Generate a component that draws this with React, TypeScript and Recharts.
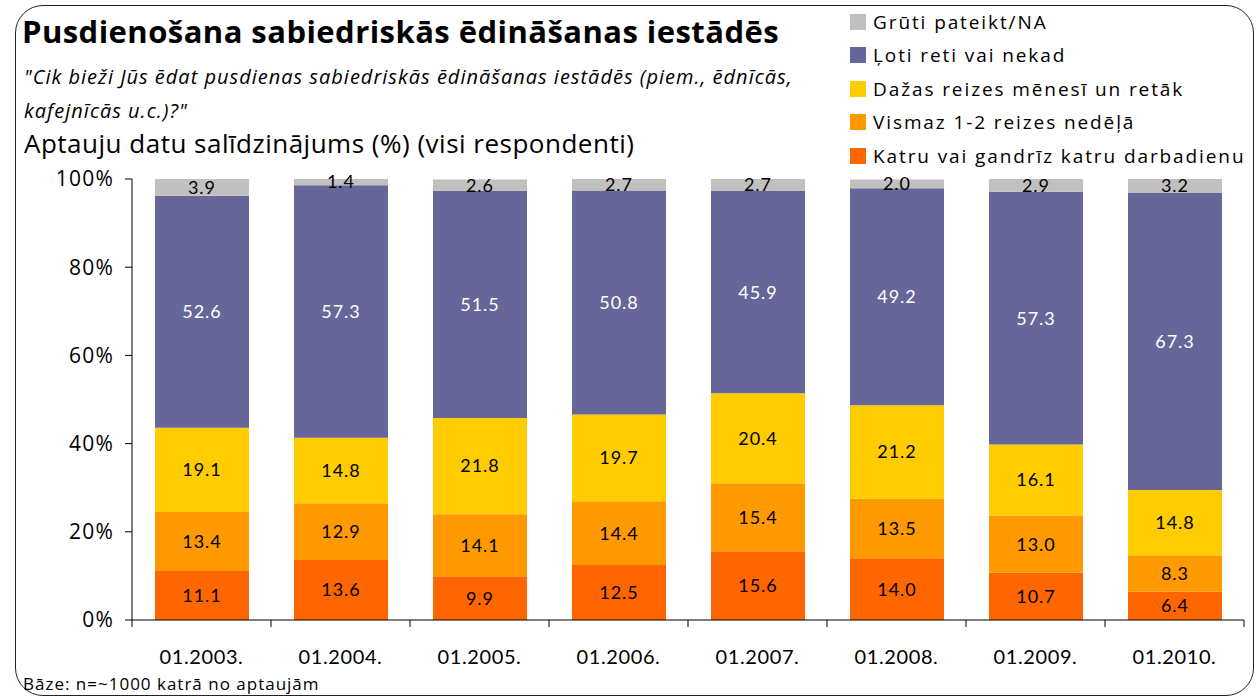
import { Bar, BarChart, LabelList, XAxis, YAxis } from 'recharts'

const categories = ['01.2003.', '01.2004.', '01.2005.', '01.2006.', '01.2007.', '01.2008.', '01.2009.', '01.2010.']
const katru = [11.1, 13.6, 9.9, 12.5, 15.6, 14.0, 10.7, 6.4]
const vismaz = [13.4, 12.9, 14.1, 14.4, 15.4, 13.5, 13.0, 8.3]
const dazas = [19.1, 14.8, 21.8, 19.7, 20.4, 21.2, 16.1, 14.8]
const loti = [52.6, 57.3, 51.5, 50.8, 45.9, 49.2, 57.3, 67.3]
const gruti = [3.9, 1.4, 2.6, 2.7, 2.7, 2.0, 2.9, 3.2]
const yTicks = [0, 20, 40, 60, 80, 100]

const series = [
  { key: 'katru', name: 'Katru vai gandrīz katru darbadienu', color: '#FF6600', text: '#000' },
  { key: 'vismaz', name: 'Vismaz 1-2 reizes nedēļā', color: '#FF9900', text: '#000' },
  { key: 'dazas', name: 'Dažas reizes mēnesī un retāk', color: '#FFCC00', text: '#000' },
  { key: 'loti', name: 'Ļoti reti vai nekad', color: '#666699', text: '#fff' },
  { key: 'gruti', name: 'Grūti pateikt/NA', color: '#C0C0C0', text: '#000' },
]

const data = categories.map((cat, i) => ({
  cat,
  katru: katru[i],
  vismaz: vismaz[i],
  dazas: dazas[i],
  loti: loti[i],
  gruti: gruti[i],
}))

const font = '"Open Sans", Lato, sans-serif'
const numFont = 'Lato, "Open Sans", sans-serif'

const XTick = (props: any) => {
  const { x, y, payload, index, visibleTicksCount } = props
  const half = payload.offset ?? 69.5
  return (
    <g>
      <line x1={x - half} x2={x - half} y1={y} y2={y + 7} stroke='#000' />
      {index === visibleTicksCount - 1 && (
        <line x1={x + half} x2={x + half} y1={y} y2={y + 7} stroke='#000' />
      )}
      <text x={x} y={y + 44} textAnchor='middle' fontSize={20} letterSpacing={0.6} fill='#000' fontFamily={numFont}>
        {payload.value}
      </text>
    </g>
  )
}

const LegendBox = () => (
  <div style={{ fontFamily: font, fontSize: 19, letterSpacing: 1.9, color: '#000' }}>
    {[...series].reverse().map((s) => (
      <div key={s.key} style={{ display: 'flex', alignItems: 'center', height: 33.5, whiteSpace: 'nowrap' }}>
        <span style={{ width: 16, height: 16, background: s.color, marginRight: 7, display: 'inline-block', flex: 'none' }} />
        <span>{s.name}</span>
      </div>
    ))}
  </div>
)

export default function App() {
  return (
    <div style={{ position: 'absolute', left: 0, top: 0, width: 1257, height: 696, background: '#fff', overflow: 'hidden', fontFamily: font }}>
      <div
        style={{
          position: 'absolute',
          left: 15,
          top: 5,
          width: 1237,
          height: 689,
          border: '1.5px solid #222',
          borderRadius: 28,
        }}
      />
      <div style={{ position: 'absolute', left: 22, top: 10, fontSize: 31, fontWeight: 700, letterSpacing: 0.45, whiteSpace: 'nowrap' }}>
        Pusdienošana sabiedriskās ēdināšanas iestādēs
      </div>
      <div style={{ position: 'absolute', left: 24, top: 60, width: 815, fontSize: 20, fontStyle: 'italic', letterSpacing: 1.0, lineHeight: '34px' }}>
        "Cik bieži Jūs ēdat pusdienas sabiedriskās ēdināšanas iestādēs (piem., ēdnīcās, kafejnīcās u.c.)?"
      </div>
      <div style={{ position: 'absolute', left: 24, top: 125, fontSize: 26, letterSpacing: 0.5, whiteSpace: 'nowrap' }}>
        Aptauju datu salīdzinājums (%) (visi respondenti)
      </div>
      <div style={{ position: 'absolute', left: 23, top: 672, fontSize: 17, letterSpacing: 1, whiteSpace: 'nowrap' }}>
        Bāze: n=~1000 katrā no aptaujām
      </div>
      <div style={{ position: 'absolute', left: 850, top: 5 }}>
        <LegendBox />
      </div>
      <BarChart
        width={1257}
        height={696}
        data={data}
        margin={{ top: 179, right: 13, bottom: 26, left: 32 }}
        barSize={94}
        style={{ position: 'absolute', left: 0, top: 0 }}
      >
        <XAxis
          dataKey='cat'
          stroke='#000'
          tickLine={false}
          tickSize={0}
          tickMargin={0}
          height={50}
          interval={0}
          tick={<XTick />}
        />
        <YAxis
          type='number'
          domain={[0, 100]}
          ticks={yTicks}
          allowDataOverflow
          width={100}
          stroke='#000'
          tickSize={7}
          tickMargin={11}
          tickFormatter={(v) => `${v}%`}
          tick={{ fontSize: 21, fill: '#000', fontFamily: font, letterSpacing: 1.2 }}
        />
        {series.map((s) => (
          <Bar key={s.key} dataKey={s.key} name={s.name} stackId='a' fill={s.color} isAnimationActive={false}>
            <LabelList
              dataKey={s.key}
              position='center'
              formatter={(v: any) => Number(v).toFixed(1)}
              style={{ fontSize: 18, fill: s.text, fontFamily: numFont, letterSpacing: 1 }}
            />
          </Bar>
        ))}
      </BarChart>
    </div>
  )
}
